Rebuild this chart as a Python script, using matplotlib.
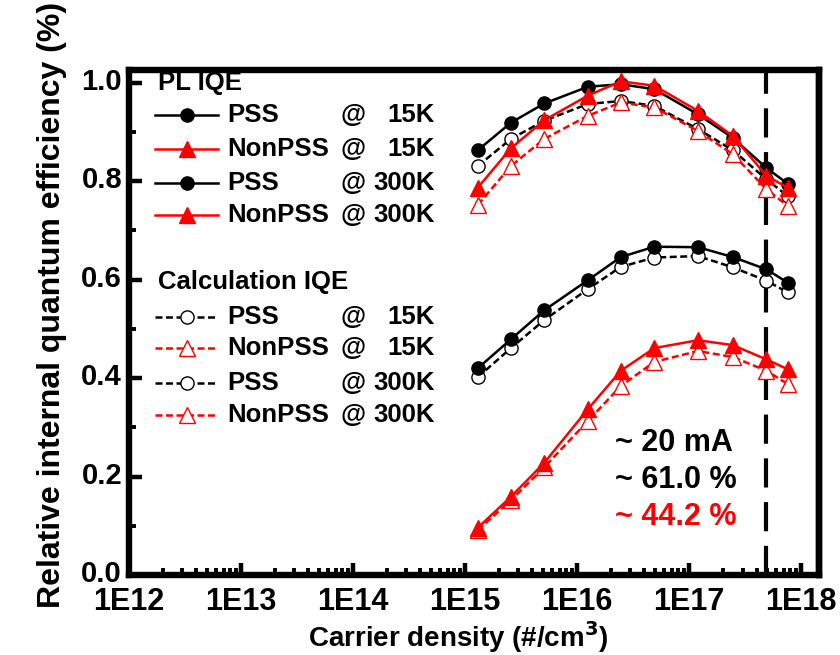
import numpy as np
import matplotlib
matplotlib.use("Agg")
import matplotlib.pyplot as plt
import matplotlib.transforms as mtransforms
from matplotlib.lines import Line2D
from matplotlib.ticker import MultipleLocator, LogLocator, NullFormatter

plt.rcParams['font.family'] = ['Liberation Sans', 'DejaVu Sans']
plt.rcParams['font.weight'] = 'bold'

# carrier density (#/cm3)
density = [1.3e15, 2.57e15, 5.1e15, 1.25e16, 2.46e16, 4.9e16, 1.2e17, 2.46e17, 4.9e17, 7.6e17]

# PL IQE
pl_pss_15k = [0.863, 0.919, 0.958, 0.992, 0.997, 0.987, 0.936, 0.888, 0.827, 0.795]
pl_nonpss_15k = [0.787, 0.867, 0.924, 0.974, 1.003, 0.994, 0.943, 0.892, 0.811, 0.787]
pl_pss_300k = [0.420, 0.479, 0.538, 0.599, 0.646, 0.667, 0.666, 0.646, 0.621, 0.594]
pl_nonpss_300k = [0.096, 0.159, 0.228, 0.337, 0.415, 0.461, 0.477, 0.467, 0.438, 0.418]

# calculated IQE
calc_pss_15k = [0.831, 0.886, 0.923, 0.957, 0.963, 0.953, 0.906, 0.863, 0.804, 0.770]
calc_nonpss_15k = [0.752, 0.831, 0.886, 0.933, 0.960, 0.950, 0.902, 0.855, 0.784, 0.750]
calc_pss_300k = [0.402, 0.461, 0.518, 0.581, 0.626, 0.645, 0.648, 0.625, 0.598, 0.574]
calc_nonpss_300k = [0.091, 0.152, 0.219, 0.313, 0.384, 0.433, 0.455, 0.443, 0.415, 0.388]

density_20ma = 4.9e17
decades = [1e12, 1e13, 1e14, 1e15, 1e16, 1e17, 1e18]
decade_labels = ['1E12', '1E13', '1E14', '1E15', '1E16', '1E17', '1E18']
yticks = [0.0, 0.2, 0.4, 0.6, 0.8, 1.0]
ytick_labels = ['0.0', '0.2', '0.4', '0.6', '0.8', '1.0']

W, H = 840, 655


def fx(x):
    return x / W


def fy(y):
    return 1 - y / H


fig = plt.figure(figsize=(W / 100, H / 100), dpi=100)
ax = fig.add_axes([fx(129), fy(575), 690 / W, 505 / H])

lw = 1.8
dash = (2.8, 1.4)
circ = dict(marker='o', markersize=9.5)
tri = dict(marker='^', markersize=12)

# calculation (dashed, open markers)
ax.plot(density, calc_pss_15k, color='black', lw=lw, dashes=dash, mfc='white', mec='black', mew=1.0, zorder=3, **circ)
ax.plot(density, calc_nonpss_15k, color='red', lw=lw, dashes=dash, mfc='white', mec='red', mew=1.0, zorder=3, **tri)
ax.plot(density, calc_pss_300k, color='black', lw=lw, dashes=dash, mfc='white', mec='black', mew=1.0, zorder=3, **circ)
ax.plot(density, calc_nonpss_300k, color='red', lw=lw, dashes=dash, mfc='white', mec='red', mew=1.0, zorder=3, **tri)

# PL (solid, filled markers)
ax.plot(density, pl_pss_15k, color='black', lw=lw, zorder=4, **circ)
ax.plot(density, pl_pss_300k, color='black', lw=lw, zorder=4, **circ)
ax.plot(density, pl_nonpss_15k, color='red', lw=lw, zorder=5, **tri)
ax.plot(density, pl_nonpss_300k, color='red', lw=lw, zorder=5, **tri)

ax.axvline(density_20ma, color='black', lw=3, dashes=(7, 3.5), zorder=2)

ax.set_xscale('log')
ax.set_xlim(1e12, 10 ** 18.16)
ax.set_ylim(0, 1.026)

ax.set_xticks(decades, decade_labels)
ax.xaxis.set_minor_locator(LogLocator(base=10, subs=np.arange(2, 10)))
ax.xaxis.set_minor_formatter(NullFormatter())
ax.set_yticks(yticks, ytick_labels)
ax.yaxis.set_minor_locator(MultipleLocator(0.1))

for s in ax.spines.values():
    s.set_linewidth(4.6)
ax.tick_params(which='both', direction='in', top=False, right=False)
ax.tick_params(which='major', length=9, width=3.2)
ax.tick_params(which='minor', length=5, width=2.8)
ax.tick_params(axis='x', pad=9, labelsize=22)
ax.tick_params(axis='y', pad=5, labelsize=21)

# y tick labels sit a little above their ticks in the original
lift = mtransforms.ScaledTranslation(0, 4 / 100, fig.dpi_scale_trans)
for lab in ax.get_yticklabels():
    lab.set_transform(lab.get_transform() + lift)

sec = ax.secondary_yaxis('right')
sec.yaxis.set_major_locator(MultipleLocator(0.1))
sec.tick_params(direction='out', length=2.5, width=3, labelright=False)
sec.spines['right'].set_linewidth(4.6)

ax.set_xlabel('Carrier density (#/cm$^\\mathbf{3}$)', fontsize=20, fontweight='bold')
ax.xaxis.set_label_coords(0.477, -0.088)
ax.set_ylabel('Relative internal quantum efficiency (%)', fontsize=23, fontweight='bold')
ax.yaxis.set_label_coords(-0.09, 0.535)

# legend block
fs = 18.5
fig.text(fx(158), fy(83), 'PL IQE', fontsize=fs, va='center', ha='left')
fig.text(fx(158), fy(282), 'Calculation IQE', fontsize=fs, va='center', ha='left')

rows = [
    (115, 'PSS', '15K', 'black', 'o', True),
    (149, 'NonPSS', '15K', 'red', '^', True),
    (183, 'PSS', '300K', 'black', 'o', True),
    (215, 'NonPSS', '300K', 'red', '^', True),
    (317, 'PSS', '15K', 'black', 'o', False),
    (348, 'NonPSS', '15K', 'red', '^', False),
    (383, 'PSS', '300K', 'black', 'o', False),
    (415, 'NonPSS', '300K', 'red', '^', False),
]
for y, name, temp, c, m, filled in rows:
    ms = 9.5 if m == 'o' else 12
    if filled:
        h = Line2D([fx(155), fx(187), fx(218)], [fy(y)] * 3, color=c, lw=lw, marker=m, markersize=ms,
                   markevery=[1], transform=fig.transFigure)
    else:
        h = Line2D([fx(155), fx(187), fx(215)], [fy(y)] * 3, color=c, lw=lw, dashes=dash, marker=m,
                   markersize=ms, mfc='white', mec=c, mew=1.0, markevery=[1], transform=fig.transFigure)
    fig.add_artist(h)
    fig.text(fx(227), fy(y), name, fontsize=fs, va='center', ha='left')
    fig.text(fx(340), fy(y), '@', fontsize=fs, va='center', ha='left')
    fig.text(fx(435), fy(y), temp, fontsize=fs, va='center', ha='right')

# annotation at ~20 mA
fig.text(fx(615), fy(443), '~ 20 mA', fontsize=22, va='center', ha='left')
fig.text(fx(615), fy(480), '~ 61.0 %', fontsize=22, va='center', ha='left')
fig.text(fx(615), fy(517), '~ 44.2 %', fontsize=22, va='center', ha='left', color='red')

fig.savefig('out.png', dpi=100)
